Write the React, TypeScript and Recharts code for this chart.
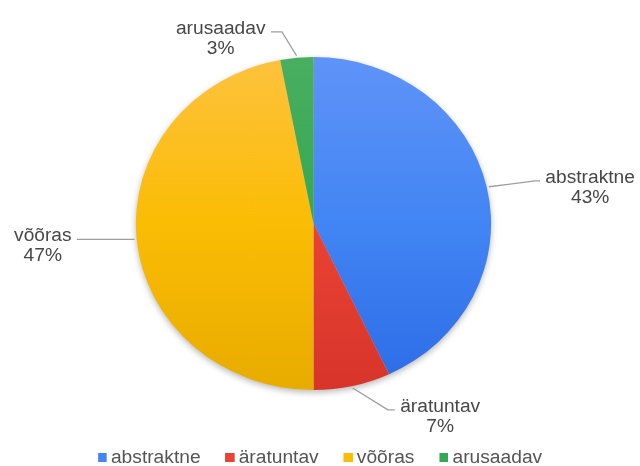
import React from 'react';
import { PieChart, Pie, Cell, Legend } from 'recharts';

const CATEGORIES = ['abstraktne', 'äratuntav', 'võõras', 'arusaadav'];
const VALUES = [43, 7, 47, 3];
const COLORS = ['#4285f4', '#ea4335', '#fbbc04', '#34a853'];
const COLORS_TOP = ['#5f93f8', '#ef4a3c', '#fdc23e', '#4aae60'];
const COLORS_BOTTOM = ['#2c6be6', '#d8342a', '#e8ac00', '#2f9a4b'];

// leader line style per label: extra radius of the elbow, angle shift, horizontal tail length
const LEADERS = [
  { extra: 45.5, shift: -1.0, tail: 4.7 },
  { extra: 32.5, shift: 7.9, tail: 6.6 },
  { extra: 2, shift: 0, tail: 54 },
  { extra: 27.5, shift: 3.4, tail: 10.3 },
];

const data = CATEGORIES.map((name, i) => ({ name, value: VALUES[i] }));

const W = 600;
const H = 466;
const SCALE = 640 / W;
const FONT = '"Liberation Sans", Arial, sans-serif';
const FS = 18;
const RAD = Math.PI / 180;

let ctx: CanvasRenderingContext2D | null = null;
function measure(t: string): number {
  if (!ctx) {
    const c = document.createElement('canvas');
    ctx = c.getContext('2d');
  }
  if (ctx) {
    ctx.font = `${FS}px "Liberation Sans"`;
    return ctx.measureText(t).width;
  }
  return t.length * FS * 0.5;
}

function polar(cx: number, cy: number, r: number, a: number) {
  return { x: cx + Math.cos(-a * RAD) * r, y: cy + Math.sin(-a * RAD) * r };
}

const renderLabel = (props: any) => {
  const { cx, cy, midAngle, outerRadius, percent, index, name } = props;
  const L = LEADERS[index];
  const start = polar(cx, cy, outerRadius + 2, midAngle);
  const ea = midAngle + L.shift;
  const elbow = polar(cx, cy, outerRadius + L.extra, ea);
  const right = Math.cos(ea * RAD) >= 0;
  const endX = elbow.x + (right ? L.tail : -L.tail);
  const x0 = endX + (right ? 5 : -5);
  const w1 = measure(name);
  const cxText = right ? x0 + w1 / 2 : x0 - w1 / 2;
  const base = elbow.y + 2;
  return (
    <g key={`lab-${index}`}>
      <polyline
        points={`${start.x},${start.y} ${elbow.x},${elbow.y} ${endX},${elbow.y}`}
        fill="none"
        stroke="#9e9e9e"
        strokeWidth={1.3}
      />
      <text x={x0} y={base} textAnchor={right ? 'start' : 'end'} fontFamily={FONT} fontSize={FS} fill="#474747">
        {name}
      </text>
      <text x={cxText} y={base + 20} textAnchor="middle" fontFamily={FONT} fontSize={FS} fill="#474747">
        {`${Math.round(percent * 100)}%`}
      </text>
    </g>
  );
};

const LegendContent = () => (
  <div
    style={{
      display: 'flex',
      justifyContent: 'center',
      alignItems: 'center',
      fontFamily: FONT,
      fontSize: FS,
      lineHeight: '20px',
      color: '#555',
      whiteSpace: 'nowrap',
    }}
  >
    {CATEGORIES.map((c, i) => (
      <span
        key={c}
        style={{ display: 'flex', alignItems: 'center', marginRight: i < CATEGORIES.length - 1 ? 23.4 : 0 }}
      >
        <span style={{ display: 'inline-block', width: 8.5, height: 9, background: COLORS[i], marginRight: 3.8 }} />
        {c}
      </span>
    ))}
  </div>
);

export default function App() {
  const cx = 293.9;
  const cy = 223.5;
  const R = 166.5;
  return (
    <div style={{ position: 'absolute', left: 0, top: 0, width: 640, height: 466, overflow: 'hidden', background: '#fff' }}>
      <div style={{ width: W, height: H, transform: `scaleX(${SCALE})`, transformOrigin: '0 0' }}>
        <PieChart width={W} height={H} margin={{ top: 0, right: 0, bottom: 0, left: 0 }}>
          <defs>
            {COLORS.map((c, i) => (
              <linearGradient
                key={c}
                id={`grad${i}`}
                gradientUnits="userSpaceOnUse"
                x1={0}
                y1={cy - R}
                x2={0}
                y2={cy + R}
              >
                <stop offset="0%" stopColor={COLORS_TOP[i]} />
                <stop offset="50%" stopColor={c} />
                <stop offset="100%" stopColor={COLORS_BOTTOM[i]} />
              </linearGradient>
            ))}
            <filter id="blurShadow" x="-20%" y="-20%" width="140%" height="140%">
              <feGaussianBlur stdDeviation="3" />
            </filter>
          </defs>
          <Pie
            data={data}
            dataKey="value"
            nameKey="name"
            cx={cx}
            cy={cy + 2.5}
            outerRadius={R}
            startAngle={90}
            endAngle={-270}
            stroke="none"
            fill="#000"
            fillOpacity={0.28}
            isAnimationActive={false}
            legendType="none"
          >
            {data.map((d, i) => (
              <Cell key={`s-${i}`} fill="#000" filter="url(#blurShadow)" />
            ))}
          </Pie>
          <Pie
            data={data}
            dataKey="value"
            nameKey="name"
            cx={cx}
            cy={cy}
            outerRadius={R}
            startAngle={90}
            endAngle={-270}
            stroke="none"
            label={renderLabel}
            labelLine={false}
            isAnimationActive={false}
          >
            {data.map((d, i) => (
              <Cell key={`c-${i}`} fill={`url(#grad${i})`} />
            ))}
          </Pie>
          <Legend
            content={<LegendContent />}
            wrapperStyle={{ position: 'absolute', top: 447, left: 0, width: W, height: 20 }}
          />
        </PieChart>
      </div>
    </div>
  );
}
